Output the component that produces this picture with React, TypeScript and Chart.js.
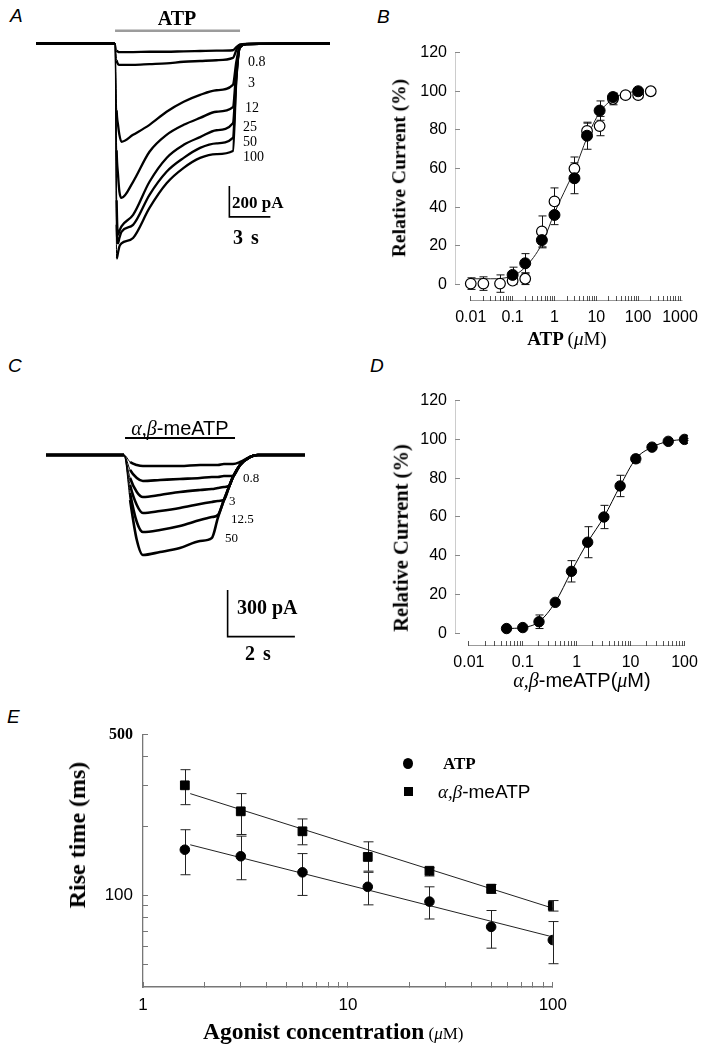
import React, { useEffect, useRef } from "react";
import { Chart, registerables } from "chart.js";

Chart.register(...registerables);

const SERIF = "'Liberation Serif', 'Times New Roman', serif";
const SANS = "'Liberation Sans', Arial, sans-serif";
Chart.defaults.font.family = SANS;

// ---------------- Panel A: ATP-evoked currents (time in s, current in pA) ----------------
const traceTimeA = [0, 5.78, 5.9, 6.0, 6.1, 6.25, 7.1, 8.3, 9.55, 10.8, 12.0, 13.2, 14.4, 14.65, 14.9, 15.4, 21.5];
const atpTraceLow = [0, 0, -45, -55, -57, -57, -57, -55, -55, -52, -50, -48, -45, -25, -8, -3, 0];
const atpTrace08 = [0, 0, -110, -135, -140, -140, -140, -135, -130, -120, -115, -110, -95, -45, -10, -5, 0];
const atpTrace3 = [0, 0, -435, -530, -595, -640, -595, -530, -445, -380, -335, -305, -270, -120, -20, -5, 0];
const atpTrace12 = [0, 0, -695, -855, -965, -1005, -900, -705, -595, -530, -485, -445, -415, -175, -25, -5, 0];
const atpTrace25 = [0, 0, -1020, -1245, -1220, -1190, -1115, -900, -745, -660, -610, -565, -520, -205, -25, -5, 0];
const atpTrace50 = [0, 0, -1180, -1300, -1265, -1225, -1180, -985, -835, -745, -680, -650, -615, -225, -30, -5, 0];
const atpTrace100 = [0, 0, -1400, -1360, -1320, -1300, -1265, -1070, -910, -810, -745, -720, -700, -240, -30, -5, 0];
const atpApplication = [5.78, 14.92]; // s
const atpApplicationLevel = 82; // pA (drawn above baseline)
const scaleBarA = { t: 14.14, i: -928, dt: 3, di: 200 };

// ---------------- Panel C: α,β-meATP-evoked currents ----------------
const traceTimeC = [0, 2.32, 2.5, 2.7, 2.88, 3.39, 3.98, 4.58, 4.93, 5.11, 5.29, 5.44, 5.56, 5.77, 6.06, 6.3, 7.7];
const meTraceLow = [0, 0, -45, -64, -71, -71, -71, -64, -64, -64, -58, -58, -58, -45, -13, 0, 0];
const meTrace08 = [0, 0, -96, -148, -167, -161, -154, -148, -141, -141, -135, -135, -135, -64, -13, 0, 0];
const meTraceMid = [0, 0, -148, -238, -270, -257, -238, -225, -219, -212, -206, -199, -141, -64, -13, 0, 0];
const meTrace3 = [0, 0, -193, -322, -373, -360, -341, -315, -302, -296, -289, -206, -141, -64, -13, 0, 0];
const meTrace125 = [0, 0, -244, -431, -495, -482, -457, -418, -399, -386, -289, -206, -141, -64, -13, 0, 0];
const meTrace50 = [0, 0, -289, -547, -643, -624, -598, -553, -534, -405, -289, -206, -141, -64, -13, 0, 0];
const meApplication = [2.35, 5.62];
const meApplicationLevel = 109;
const scaleBarC = { t: 5.4, i: -868, dt: 2, di: 300 };

// ---------------- Panel B: ATP concentration-response ----------------
const atpFilledConc = [0.1, 0.2, 0.5, 1, 3, 6, 12, 25, 100];
const atpFilledMean = [5, 11, 23, 36, 55, 77, 90, 97, 100];
const atpFilledSem = [4, 5, 4, 5, 8, 7, 5, 2, 1];
const atpOpenConc = [0.01, 0.02, 0.05, 0.1, 0.2, 0.5, 1, 3, 6, 12, 25, 50, 100, 200];
const atpOpenMean = [0.5, 0.5, 0.5, 2, 3, 27.5, 43, 60, 79.5, 82, 96, 98, 98, 100];
const atpOpenSem = [3, 3.5, 4.5, 2, 3, 8, 7, 6, 4, 5, 3, 1, 1, 0];
const atpFitConc = [0.01, 0.03, 0.1, 0.2, 0.5, 1, 2, 3, 6, 12, 25, 50, 100];
const atpFitValue = [3, 3, 4.5, 9, 21, 37, 51, 59, 76, 89, 96, 99, 100];
const bXMajor = [0.01, 0.1, 1, 10, 100, 1000];
const bYTicks = [0, 20, 40, 60, 80, 100, 120];

// ---------------- Panel D: α,β-meATP concentration-response ----------------
const meConc = [0.05, 0.1, 0.2, 0.4, 0.8, 1.6, 3.2, 6.4, 12.5, 25, 50, 100];
const meMean = [2.5, 3, 6, 16, 32, 47, 60, 76, 90, 96, 99, 100];
const meSem = [0, 0, 3.5, 1, 5.5, 8, 6, 5.5, 2, 1, 1, 0.5];
const dXMajor = [0.01, 0.1, 1, 10, 100];
const dYTicks = [0, 20, 40, 60, 80, 100, 120];

// ---------------- Panel E: rise time vs agonist concentration ----------------
const riseConc = [1.6, 3, 6, 12.5, 25, 50, 100];
const atpRise = [158, 148, 126, 109, 94, 73, 64];
const atpRiseHigh = [193, 181, 152, 126, 109, 86, 77];
const atpRiseLow = [123, 117, 100, 91, 79, 59, 50.5];
const meRise = [301, 232, 190, 147, 128, 107, 90];
const meRiseHigh = [352, 277, 215, 171, 132, 111.5, 95];
const meRiseLow = [248, 184, 166, 127.5, 121.5, 102, 85.5];
const riseFitConc = [1.7, 100];
const atpRiseFit = [166, 66];
const meRiseFit = [277, 88];
const eXMajor = [1, 10, 100];
const eYTicks = [50, 60, 70, 80, 90, 100, 200, 300, 400, 500];
const eYLabels = [100, 500];

// ---------------- helpers ----------------
const pts = (xs: number[], ys: number[]) => xs.map((x, i) => ({ x, y: ys[i] }));

const logTicks = (majors: number[]) => {
  const out: number[] = [];
  majors.forEach((m, i) => {
    out.push(m);
    if (i < majors.length - 1) for (let k = 2; k <= 9; k++) out.push(m * k);
  });
  return out;
};

const errorBarPlugin = {
  id: "errorBars",
  beforeDatasetsDraw(chart: any) {
    const ctx = chart.ctx;
    const ys = chart.scales.y;
    chart.data.datasets.forEach((ds: any, i: number) => {
      if (!ds.errLow || !ds.errHigh) return;
      const meta = chart.getDatasetMeta(i);
      ctx.save();
      ctx.strokeStyle = ds.errColor || "#111";
      ctx.lineWidth = 1;
      const cap = ds.errCap ?? 4;
      meta.data.forEach((pt: any, j: number) => {
        const lo = ds.errLow[j];
        const hi = ds.errHigh[j];
        if (lo == null || hi == null || lo === hi) return;
        const x = Math.round(pt.x) + 0.5;
        const y1 = ys.getPixelForValue(lo);
        const y2 = ys.getPixelForValue(hi);
        ctx.beginPath();
        ctx.moveTo(x, y1);
        ctx.lineTo(x, y2);
        ctx.moveTo(x - cap, y1);
        ctx.lineTo(x + cap, y1);
        ctx.moveTo(x - cap, y2);
        ctx.lineTo(x + cap, y2);
        ctx.stroke();
      });
      ctx.restore();
    });
  },
};

const baseOptions = () => ({
  animation: false,
  responsive: false,
  maintainAspectRatio: false,
  devicePixelRatio: 1,
  events: [],
  plugins: { legend: { display: false }, tooltip: { enabled: false } },
});

function traceConfig(times: number[], traces: number[][], app: number[], appLevel: number, bar: any, xmax: number, ymin: number, ymax: number, lineW: number, appColor: string, appWidth: number) {
  const datasets: any[] = traces.map((vals) => ({
    data: pts(times, vals),
    borderColor: "#000",
    borderWidth: lineW,
    pointRadius: 0,
    cubicInterpolationMode: "monotone",
    fill: false,
    segment: { borderWidth: (c: any) => (c.p0DataIndex === 1 ? 1 : undefined) },
  }));
  datasets.push({
    data: [
      { x: app[0], y: appLevel },
      { x: app[1], y: appLevel },
    ],
    borderColor: appColor,
    borderWidth: appWidth,
    pointRadius: 0,
    tension: 0,
  });
  datasets.push({
    data: [
      { x: bar.t, y: bar.i },
      { x: bar.t, y: bar.i - bar.di },
      { x: bar.t + bar.dt, y: bar.i - bar.di },
    ],
    borderColor: "#000",
    borderWidth: 1.6,
    pointRadius: 0,
    tension: 0,
  });
  return {
    type: "line",
    data: { datasets },
    options: {
      ...baseOptions(),
      layout: { padding: 0 },
      scales: {
        x: { type: "linear", display: false, min: 0, max: xmax },
        y: { type: "linear", display: false, min: ymin, max: ymax },
      },
    },
  };
}

function doseAxes(xmin: number, xmax: number, xMajor: number[], ymin: number, ymax: number, yTicks: number[], xHeight: number) {
  const xt = logTicks(xMajor);
  return {
    x: {
      type: "logarithmic",
      min: xmin,
      max: xmax,
      bounds: "data",
      afterBuildTicks: (s: any) => {
        s.ticks = xt.map((v) => ({ value: v }));
      },
      afterFit: (s: any) => {
        s.height = xHeight;
      },
      border: { display: false },
      grid: { display: true, drawOnChartArea: false, drawTicks: true, tickLength: -5, color: "#555", lineWidth: 1 },
      ticks: {
        autoSkip: false,
        maxRotation: 0,
        minRotation: 0,
        padding: 12,
        color: "#000",
        font: { family: SANS, size: 16 },
        callback: (v: number) => (xMajor.includes(v) ? String(v) : ""),
      },
    },
    y: {
      type: "linear",
      min: ymin,
      max: ymax,
      bounds: "data",
      afterBuildTicks: (s: any) => {
        s.ticks = yTicks.map((v) => ({ value: v }));
      },
      afterFit: (s: any) => {
        s.width = 75;
      },
      border: { display: false },
      grid: { display: true, drawOnChartArea: false, drawTicks: true, tickLength: -5, color: "#888", lineWidth: 1 },
      ticks: {
        autoSkip: false,
        padding: 13,
        color: "#000",
        font: { family: SANS, size: 16 },
        callback: (v: number) => String(v),
      },
    },
  };
}

const B_XMIN = 0.0042;
const B_XMAX = 1250;
const B_YMIN = -8.5;
const D_XMIN = 0.00553;
const D_XMAX = 115.4;
const D_YMIN = -6.5;

function buildA() {
  return traceConfig(
    traceTimeA,
    [atpTraceLow, atpTrace08, atpTrace3, atpTrace12, atpTrace25, atpTrace50, atpTrace100],
    atpApplication,
    atpApplicationLevel,
    scaleBarA,
    21.5,
    -1441,
    119,
    2.3,
    "#9c9c9c",
    2.4
  );
}

function buildC() {
  return traceConfig(
    traceTimeC,
    [meTraceLow, meTrace08, meTraceMid, meTrace3, meTrace125, meTrace50],
    meApplication,
    meApplicationLevel,
    scaleBarC,
    7.79,
    -1222,
    193,
    2.6,
    "#000",
    2
  );
}

function buildB() {
  return {
    type: "scatter",
    data: {
      datasets: [
        {
          data: pts(atpFilledConc, atpFilledMean),
          pointRadius: 5.5,
          backgroundColor: "#000",
          borderColor: "#000",
          borderWidth: 1,
          errLow: atpFilledMean.map((m, i) => m - atpFilledSem[i]),
          errHigh: atpFilledMean.map((m, i) => m + atpFilledSem[i]),
          errCap: 4,
        },
        {
          data: pts(atpOpenConc, atpOpenMean),
          pointRadius: 5.3,
          backgroundColor: "#fff",
          borderColor: "#000",
          borderWidth: 1.2,
          errLow: atpOpenMean.map((m, i) => m - atpOpenSem[i]),
          errHigh: atpOpenMean.map((m, i) => m + atpOpenSem[i]),
          errCap: 4,
        },
        {
          data: pts(atpFitConc, atpFitValue),
          showLine: true,
          pointRadius: 0,
          borderColor: "#222",
          borderWidth: 1,
          cubicInterpolationMode: "monotone",
        },
        {
          data: [
            { x: B_XMIN, y: 0 },
            { x: B_XMIN, y: 120 },
          ],
          showLine: true,
          pointRadius: 0,
          borderColor: "#999",
          borderWidth: 1,
        },
        {
          data: [
            { x: 0.01, y: B_YMIN },
            { x: 1150, y: B_YMIN },
          ],
          showLine: true,
          pointRadius: 0,
          borderColor: "#333",
          borderWidth: 1,
        },
      ],
    },
    options: {
      ...baseOptions(),
      layout: { padding: { top: 15, right: 11, left: 0, bottom: 0 } },
      scales: doseAxes(B_XMIN, B_XMAX, bXMajor, B_YMIN, 120, bYTicks, 29),
    },
    plugins: [errorBarPlugin],
  };
}

function buildD() {
  return {
    type: "scatter",
    data: {
      datasets: [
        {
          data: pts(meConc, meMean),
          showLine: true,
          cubicInterpolationMode: "monotone",
          pointRadius: 5.2,
          backgroundColor: "#000",
          borderColor: "#000",
          borderWidth: 1,
          errLow: meMean.map((m, i) => m - meSem[i]),
          errHigh: meMean.map((m, i) => m + meSem[i]),
          errCap: 4,
        },
        {
          data: [
            { x: D_XMIN, y: 0 },
            { x: D_XMIN, y: 120 },
          ],
          showLine: true,
          pointRadius: 0,
          borderColor: "#999",
          borderWidth: 1,
        },
        {
          data: [
            { x: 0.01, y: D_YMIN },
            { x: 100, y: D_YMIN },
          ],
          showLine: true,
          pointRadius: 0,
          borderColor: "#333",
          borderWidth: 1,
        },
      ],
    },
    options: {
      ...baseOptions(),
      layout: { padding: { top: 15, right: 12, left: 0, bottom: 0 } },
      scales: doseAxes(D_XMIN, D_XMAX, dXMajor, D_YMIN, 120, dYTicks, 32),
    },
    plugins: [errorBarPlugin],
  };
}

function buildE() {
  const xt = logTicks(eXMajor);
  return {
    type: "scatter",
    data: {
      datasets: [
        {
          label: "ATP",
          data: pts(riseConc, atpRise),
          pointStyle: "circle",
          pointRadius: 4.8,
          backgroundColor: "#000",
          borderColor: "#000",
          borderWidth: 1,
          errLow: atpRiseLow,
          errHigh: atpRiseHigh,
          errCap: 5,
          errColor: "#222",
        },
        {
          label: "α,β-meATP",
          data: pts(riseConc, meRise),
          pointStyle: "rect",
          pointRadius: 6.2,
          backgroundColor: "#000",
          borderColor: "#000",
          borderWidth: 1,
          errLow: meRiseLow,
          errHigh: meRiseHigh,
          errCap: 5,
          errColor: "#222",
        },
        {
          data: pts(riseFitConc, atpRiseFit),
          showLine: true,
          pointRadius: 0,
          borderColor: "#222",
          borderWidth: 1,
        },
        {
          data: pts(riseFitConc, meRiseFit),
          showLine: true,
          pointRadius: 0,
          borderColor: "#222",
          borderWidth: 1,
        },
      ],
    },
    options: {
      ...baseOptions(),
      layout: { padding: { top: 14, right: 22, left: 0, bottom: 0 } },
      scales: {
        x: {
          type: "logarithmic",
          min: 1,
          max: 100,
          bounds: "data",
          afterBuildTicks: (s: any) => {
            s.ticks = xt.map((v) => ({ value: v }));
          },
          afterFit: (s: any) => {
            s.height = 63;
          },
          border: { display: true, color: "#777", width: 1.6 },
          grid: { display: true, drawOnChartArea: false, drawTicks: true, tickLength: -5, color: "#777" },
          ticks: {
            autoSkip: false,
            maxRotation: 0,
            minRotation: 0,
            padding: 13,
            color: "#000",
            font: { family: SANS, size: 17 },
            callback: (v: number) => (eXMajor.includes(v) ? String(v) : ""),
          },
        },
        y: {
          type: "logarithmic",
          min: 40,
          max: 500,
          bounds: "data",
          afterBuildTicks: (s: any) => {
            s.ticks = eYTicks.map((v) => ({ value: v }));
          },
          afterFit: (s: any) => {
            s.width = 83;
          },
          border: { display: true, color: "#777", width: 1.3 },
          grid: { display: true, drawOnChartArea: false, drawTicks: true, tickLength: -5, color: "#777" },
          ticks: {
            autoSkip: false,
            padding: 15,
            color: "#000",
            font: (c: any) =>
              c.tick && c.tick.value === 500
                ? { family: SERIF, size: 16, weight: "bold" }
                : { family: SANS, size: 17 },
            callback: (v: number) => (eYLabels.includes(v) ? String(v) : ""),
          },
        },
      },
    },
    plugins: [errorBarPlugin],
  };
}

function ChartCanvas({ left, top, width, height, build }: any) {
  const ref = useRef<HTMLCanvasElement | null>(null);
  useEffect(() => {
    const chart = new Chart(ref.current as HTMLCanvasElement, build());
    return () => chart.destroy();
  }, []);
  return (
    <canvas
      ref={ref}
      width={width}
      height={height}
      style={{ position: "absolute", left, top, width, height }}
    />
  );
}

function Txt({ x, y, size, family = SERIF, bold, italic, center, rotate, spacing, children }: any) {
  const style: React.CSSProperties = {
    position: "absolute",
    left: x,
    top: y,
    fontSize: size,
    fontFamily: family,
    fontWeight: bold ? 700 : 400,
    fontStyle: italic ? "italic" : "normal",
    lineHeight: 1,
    whiteSpace: "nowrap",
    color: "#000",
    letterSpacing: spacing,
    transform: rotate
      ? "translate(-50%,-50%) rotate(-90deg)"
      : center
      ? "translate(-50%,-50%)"
      : "translate(0,-50%)",
  };
  return <div style={style}>{children}</div>;
}

const ab = <span style={{ fontFamily: SERIF, fontStyle: "italic" }}>α,β</span>;

export default function App() {
  return (
    <div
      style={{
        position: "absolute",
        left: 0,
        top: 0,
        width: 720,
        height: 1053,
        background: "#fff",
        overflow: "hidden",
      }}
    >
      {/* Panel letters */}
      <Txt x={10} y={15} size={19} family={SANS} italic>A</Txt>
      <Txt x={377} y={15.5} size={19} family={SANS} italic>B</Txt>
      <Txt x={8} y={364.5} size={19} family={SANS} italic>C</Txt>
      <Txt x={370} y={364.5} size={19} family={SANS} italic>D</Txt>
      <Txt x={7} y={715.5} size={19} family={SANS} italic>E</Txt>

      {/* Panel A */}
      <ChartCanvas left={36} top={25} width={294} height={240} build={buildA} />
      <Txt x={177} y={18} size={20} bold center>ATP</Txt>
      <Txt x={248} y={62} size={14}>0.8</Txt>
      <Txt x={248} y={83} size={14}>3</Txt>
      <Txt x={245} y={108} size={14}>12</Txt>
      <Txt x={243} y={127} size={14}>25</Txt>
      <Txt x={243} y={142} size={14}>50</Txt>
      <Txt x={243} y={157} size={14}>100</Txt>
      <Txt x={232} y={202} size={17} bold>200 pA</Txt>
      <Txt x={233} y={237} size={20} bold spacing={1.5}>3 s</Txt>

      {/* Panel B */}
      <ChartCanvas left={380} top={30} width={330} height={300} build={buildB} />
      <Txt x={399} y={168} size={19.5} bold rotate>Relative Current (%)</Txt>
      <Txt x={567} y={338} size={19} center>
        <b>ATP </b>
        <span>(<i>μ</i>M)</span>
      </Txt>

      {/* Panel C */}
      <ChartCanvas left={46} top={425} width={262} height={220} build={buildC} />
      <Txt x={180} y={428} size={20} family={SANS} center>
        {ab}-meATP
      </Txt>
      <Txt x={243} y={477} size={13}>0.8</Txt>
      <Txt x={229} y={500} size={13}>3</Txt>
      <Txt x={231} y={518} size={13}>12.5</Txt>
      <Txt x={225} y={537} size={13}>50</Txt>
      <Txt x={237} y={607} size={20} bold>300 pA</Txt>
      <Txt x={245} y={653} size={20} bold spacing={1.5}>2 s</Txt>

      {/* Panel D */}
      <ChartCanvas left={380} top={378} width={330} height={300} build={buildD} />
      <Txt x={401} y={538} size={20.5} bold rotate>Relative Current (%)</Txt>
      <Txt x={582} y={680} size={20} family={SANS} center>
        {ab}-meATP(<i style={{ fontFamily: SERIF }}>μ</i>M)
      </Txt>

      {/* Panel E */}
      <ChartCanvas left={60} top={710} width={520} height={340} build={buildE} />
      <Txt x={77} y={835} size={24} bold rotate>Rise time (ms)</Txt>
      <Txt x={203} y={1032} size={23.5}>
        <b>Agonist concentration</b>
        <span style={{ fontSize: 17 }}> (<i>μ</i>M)</span>
      </Txt>
      <div
        style={{
          position: "absolute",
          left: 403,
          top: 757.5,
          width: 10,
          height: 11,
          borderRadius: "50%",
          background: "#000",
        }}
      />
      <Txt x={443} y={763} size={17} bold>ATP</Txt>
      <div
        style={{
          position: "absolute",
          left: 404,
          top: 786.5,
          width: 9,
          height: 9,
          background: "#000",
        }}
      />
      <Txt x={438} y={791} size={19} family={SANS}>
        {ab}-meATP
      </Txt>
    </div>
  );
}
